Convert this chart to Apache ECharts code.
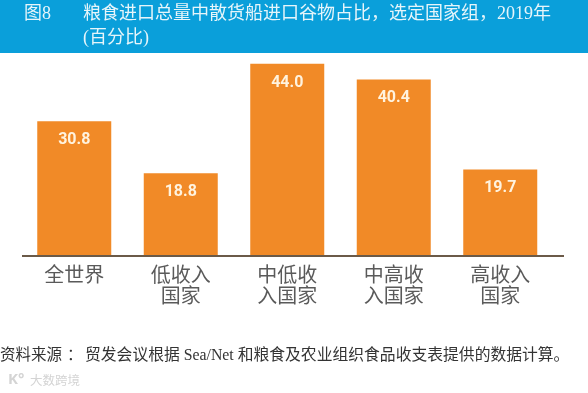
<!DOCTYPE html>
<html><head><meta charset="utf-8">
<style>html,body{margin:0;padding:0;background:#fff}#c{width:588px;height:393px}</style>
<script src="https://cdn.jsdelivr.net/npm/echarts@6/dist/echarts.min.js"></script>
</head><body><div id="c"></div>
<script>
const categories = ['全世界','低收入\n国家','中低收\n入国家','中高收\n入国家','高收入\n国家'];
const values = [30.8,18.8,44.0,40.4,19.7];
const figureNo = '图8';
const titleLine1 = '粮食进口总量中散货船进口谷物占比，选定国家组，2019年';
const titleLine2 = '(百分比)';
const sourceHead = '资料来源';
const sourceColon = '：';
const sourceText = '贸发会议根据 Sea/Net 和粮食及农业组织食品收支表提供的数据计算。';
const watermarkLogo = 'K°';
const watermark = '大数跨境';
const serif = '"Liberation Serif","Noto Sans CJK SC",serif';
const chart = echarts.init(document.getElementById('c'), null, {renderer:'canvas'});
chart.setOption({
  animation:false,
  backgroundColor:'#fff',
  grid:{left:21,width:532.5,top:53,bottom:138},
  xAxis:{type:'category',data:categories,
    axisLine:{show:false},axisTick:{show:false},
    axisLabel:{color:'#5a5a5a',fontFamily:serif,fontSize:20,lineHeight:21,margin:11,interval:0}},
  yAxis:{type:'value',min:0,max:46.5,show:false,splitLine:{show:false}},
  series:[{type:'bar',data:values,barWidth:74,
    itemStyle:{color:'#F18A27'},
    label:{show:true,position:'insideTop',distance:11,color:'#FFF3DF',
      fontFamily:'Roboto,sans-serif',fontWeight:'bold',fontSize:16,
      formatter:p=>p.value.toFixed(1)}}],
  graphic:[
    {type:'rect',silent:true,z:0,shape:{x:0,y:0,width:588,height:53},style:{fill:'#0A9FDA'}},
    {type:'text',x:24,y:5,style:{text:figureNo,fill:'#E6F5FA',font:'18px '+serif}},
    {type:'text',x:83,y:5,style:{text:titleLine1,fill:'#E6F5FA',font:'18px '+serif}},
    {type:'text',x:83,y:29,style:{text:titleLine2,fill:'#E6F5FA',font:'18px '+serif}},
    {type:'line',z:10,shape:{x1:22,y1:256,x2:564,y2:256},style:{stroke:'#6b5a48',lineWidth:2}},
    {type:'text',x:0,y:348,style:{text:sourceHead,fill:'#333',font:'15.5px '+serif}},
    {type:'text',x:67,y:348,style:{text:sourceColon,fill:'#333',font:'15.5px '+serif}},
    {type:'text',x:85,y:348,style:{text:sourceText,fill:'#333',font:'15.8px '+serif}},
    {type:'text',x:8,y:372,style:{text:watermarkLogo,fill:'#d4d4d4',font:'bold 15px "Noto Sans",sans-serif'}},
    {type:'text',x:30,y:374,style:{text:watermark,fill:'#d4d4d4',font:'12.5px "Noto Sans CJK SC",sans-serif'}}
  ]
});
</script></body></html>
